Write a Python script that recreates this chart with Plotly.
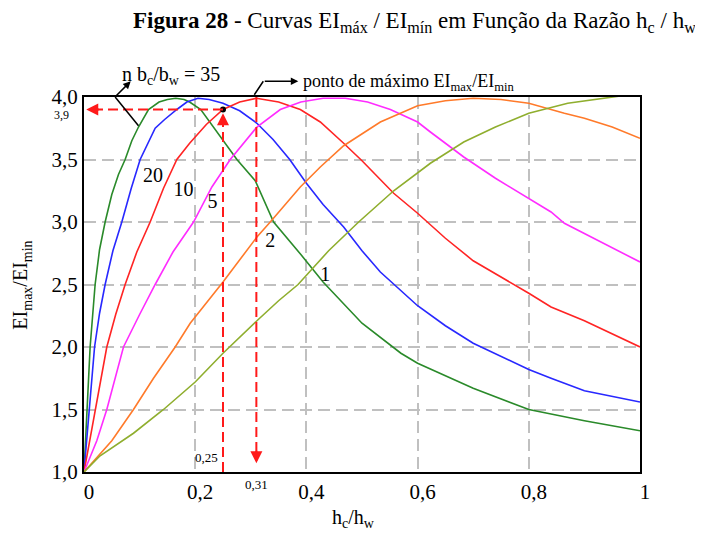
import plotly.graph_objects as go

# curvas EImax/EImin x hc/hw para varios n bc/bw
x_35 = [0, 0.006, 0.011, 0.02, 0.028, 0.038, 0.05, 0.062, 0.074, 0.086, 0.098, 0.116, 0.135, 0.15, 0.165,
        0.18, 0.19, 0.21, 0.24, 0.275, 0.308, 0.341, 0.39, 0.43, 0.5, 0.57, 0.6, 0.7, 0.8, 0.9, 1.0]
y_35 = [1.0, 1.5, 2.0, 2.5, 2.78, 3.0, 3.22, 3.38, 3.5, 3.65, 3.76, 3.9, 3.96, 3.98, 3.99,
        3.98, 3.96, 3.9, 3.72, 3.5, 3.33, 3.0, 2.74, 2.52, 2.19, 1.95, 1.87, 1.67, 1.5, 1.41, 1.33]

x_20 = [0, 0.009, 0.019, 0.028, 0.038, 0.052, 0.068, 0.085, 0.101, 0.128, 0.145, 0.167, 0.185, 0.205, 0.225,
        0.25, 0.28, 0.311, 0.34, 0.37, 0.4, 0.43, 0.467, 0.5, 0.533, 0.6, 0.65, 0.7, 0.8, 0.84, 0.9, 1.0]
y_20 = [1.0, 1.5, 2.0, 2.27, 2.5, 2.77, 3.0, 3.27, 3.5, 3.75, 3.82, 3.9, 3.96, 3.99, 3.98,
        3.95, 3.89, 3.79, 3.66, 3.5, 3.31, 3.14, 2.96, 2.77, 2.6, 2.33, 2.17, 2.03, 1.82, 1.75, 1.65, 1.56]

x_10 = [0, 0.01, 0.02, 0.03, 0.041, 0.057, 0.074, 0.095, 0.119, 0.143, 0.167, 0.19, 0.22, 0.25, 0.28,
        0.31, 0.35, 0.389, 0.425, 0.467, 0.5, 0.557, 0.6, 0.65, 0.7, 0.8, 0.84, 0.9, 1.0]
y_10 = [1.0, 1.25, 1.5, 1.75, 2.0, 2.26, 2.5, 2.76, 3.0, 3.27, 3.5, 3.63, 3.78, 3.9, 3.96,
        3.99, 3.96, 3.9, 3.8, 3.63, 3.49, 3.23, 3.07, 2.87, 2.69, 2.43, 2.32, 2.21, 2.0]

x_5 = [0, 0.023, 0.041, 0.056, 0.071, 0.1, 0.128, 0.16, 0.197, 0.23, 0.263, 0.311, 0.353, 0.39,
       0.43, 0.47, 0.51, 0.551, 0.6, 0.623, 0.683, 0.74, 0.8, 0.84, 0.864, 0.93, 1.0]
y_5 = [1.0, 1.25, 1.5, 1.75, 2.0, 2.26, 2.5, 2.76, 3.0, 3.28, 3.5, 3.76, 3.9, 3.96,
       3.99, 3.99, 3.96, 3.9, 3.8, 3.72, 3.52, 3.35, 3.19, 3.08, 2.99, 2.84, 2.68]

x_2 = [0, 0.05, 0.089, 0.125, 0.164, 0.191, 0.25, 0.311, 0.335, 0.389, 0.425, 0.467, 0.533, 0.6,
       0.65, 0.7, 0.75, 0.8, 0.864, 0.9, 0.95, 1.0]
y_2 = [1.0, 1.25, 1.5, 1.75, 2.0, 2.19, 2.52, 2.88, 3.0, 3.28, 3.44, 3.61, 3.8, 3.93,
       3.97, 3.99, 3.98, 3.95, 3.87, 3.83, 3.76, 3.67]

x_1 = [0, 0.029, 0.089, 0.143, 0.2, 0.25, 0.311, 0.35, 0.385, 0.44, 0.494, 0.557, 0.623, 0.683,
       0.74, 0.8, 0.87, 0.94, 1.0]
y_1 = [1.0, 1.13, 1.31, 1.5, 1.72, 1.95, 2.21, 2.37, 2.5, 2.77, 3.0, 3.25, 3.47, 3.64,
       3.76, 3.87, 3.95, 3.995, 4.03]

curvas = [
    (x_35, y_35, "#2a8a2a"),
    (x_20, y_20, "#2828ff"),
    (x_10, y_10, "#ff2424"),
    (x_5, y_5, "#ff2cff"),
    (x_2, y_2, "#ff7a2a"),
    (x_1, y_1, "#8fae2e"),
]

# rotulos das curvas
rotulos = ["20", "10", "5", "2", "1"]
rot_x = [0.124, 0.179, 0.231, 0.335, 0.434]
rot_y = [3.36, 3.25, 3.15, 2.84, 2.57]

x_ticks = [0, 0.2, 0.4, 0.6, 0.8, 1]
x_ticktext = ["0", "0,2", "0,4", "0,6", "0,8", "1"]
y_ticks = [1.0, 1.5, 2.0, 2.5, 3.0, 3.5, 4.0]
y_ticktext = ["1,0", "1,5", "2,0", "2,5", "3,0", "3,5", "4,0"]

serif = "Liberation Serif, Times New Roman, serif"
vermelho = "#ff1a1a"

fig = go.Figure()

for xs, ys, cor in curvas:
    fig.add_trace(go.Scatter(x=xs, y=ys, mode="lines", line=dict(color=cor, width=1.6),
                             showlegend=False, hoverinfo="skip"))

#ponto (0,25 ; 3,9)
fig.add_trace(go.Scatter(x=[0.25], y=[3.9], mode="markers", marker=dict(color="black", size=6),
                         showlegend=False, hoverinfo="skip"))

fig.add_trace(go.Scatter(x=rot_x, y=rot_y, mode="text", text=rotulos,
                         textfont=dict(family=serif, size=20, color="black"),
                         showlegend=False, hoverinfo="skip"))

#linhas tracejadas vermelhas
linhas = [
    (0.25, 3.9, 0.015, 3.9),
    (0.25, 1.0, 0.25, 3.85),
    (0.31, 4.0, 0.31, 1.09),
]
for x0, y0, x1, y1 in linhas:
    fig.add_shape(type="line", x0=x0, y0=y0, x1=x1, y1=y1, xref="x", yref="y",
                  line=dict(color=vermelho, width=2, dash="10px,5px"))

#pontas das setas vermelhas
setas = [(0.004, 3.9, 14, 0), (0.25, 3.87, 0, 14), (0.31, 1.07, 0, -14)]
for x, y, ax, ay in setas:
    fig.add_annotation(x=x, y=y, ax=ax, ay=ay, text="", showarrow=True, arrowhead=2,
                       arrowsize=1.2, arrowwidth=2, arrowcolor=vermelho)

#setas pretas (fora da area do grafico -> coordenadas paper)
fig.add_shape(type="line", x0=0.056, y0=4.0, x1=0.098, y1=3.77, xref="x", yref="y",
              line=dict(color="black", width=1.5))
fig.add_annotation(x=0.084, y=1.042, xref="paper", yref="paper", ax=-16, ay=16, text="",
                   showarrow=True, arrowhead=2, arrowsize=1, arrowwidth=1.5, arrowcolor="black")
fig.add_annotation(x=0.3225, y=1.042, xref="paper", yref="paper", ax=-10, ay=15, text="",
                   showarrow=True, arrowhead=0, arrowwidth=1.5, arrowcolor="black")
fig.add_annotation(x=0.3854, y=1.042, xref="paper", yref="paper", ax=-35, ay=0, text="",
                   showarrow=True, arrowhead=2, arrowsize=1, arrowwidth=1.5, arrowcolor="black")

textos = [
    (0.156, 1.058, "n b<sub>c</sub>/b<sub>w</sub> = 35", 20, "center"),
    (0.391, 1.039, "ponto de máximo EI<sub>max</sub>/EI<sub>min</sub>", 18, "left"),
    (-0.04, 0.952, "3,9", 12, "center"),
    (0.22, 0.04, "0,25", 13, "center"),
    (0.311, -0.034, "0,31", 13, "center"),
]
for x, y, t, s, al in textos:
    fig.add_annotation(x=x, y=y, xref="paper", yref="paper", text=t, showarrow=False,
                       xanchor=al, yanchor="middle",
                       font=dict(family=serif, size=s, color="black"))

fig.add_annotation(x=0.595, y=1.199, xref="paper", yref="paper", showarrow=False,
                   xanchor="center", yanchor="middle",
                   text="<b>Figura 28</b> - Curvas EI<sub>máx</sub> / EI<sub>mín</sub> em Função da Razão h<sub>c</sub> / h<sub>w</sub>",
                   font=dict(family=serif, size=23, color="black"))
fig.add_annotation(x=0.484, y=-0.124, xref="paper", yref="paper", showarrow=False,
                   xanchor="center", yanchor="middle",
                   text="h<sub>c</sub>/h<sub>w</sub>", font=dict(family=serif, size=20, color="black"))
fig.add_annotation(x=-0.1115, y=0.497, xref="paper", yref="paper", showarrow=False, textangle=-90,
                   xanchor="center", yanchor="middle",
                   text="EI<sub>max</sub>/EI<sub>min</sub>", font=dict(family=serif, size=20, color="black"))

fig.update_xaxes(range=[0, 1], tickvals=x_ticks, ticktext=x_ticktext, showgrid=True,
                 gridcolor="#c0c0c0", gridwidth=2, griddash="12px,6px", zeroline=False,
                 showline=True, mirror=True, linecolor="black", linewidth=2, ticklabelshift=5,
                 tickfont=dict(family=serif, size=21, color="black"))
fig.update_yaxes(range=[1, 4], tickvals=y_ticks, ticktext=y_ticktext, showgrid=True,
                 gridcolor="#c0c0c0", gridwidth=2, griddash="12px,6px", zeroline=False,
                 showline=True, mirror=True, linecolor="black", linewidth=2,
                 tickfont=dict(family=serif, size=21, color="black"))

# a pagina tem 8px de margem no body, por isso a figura e menor
fig.update_layout(width=695, height=525, plot_bgcolor="white", paper_bgcolor="white",
                  margin=dict(l=76, r=63, t=89, b=61), showlegend=False)

fig.write_html("out.html")
